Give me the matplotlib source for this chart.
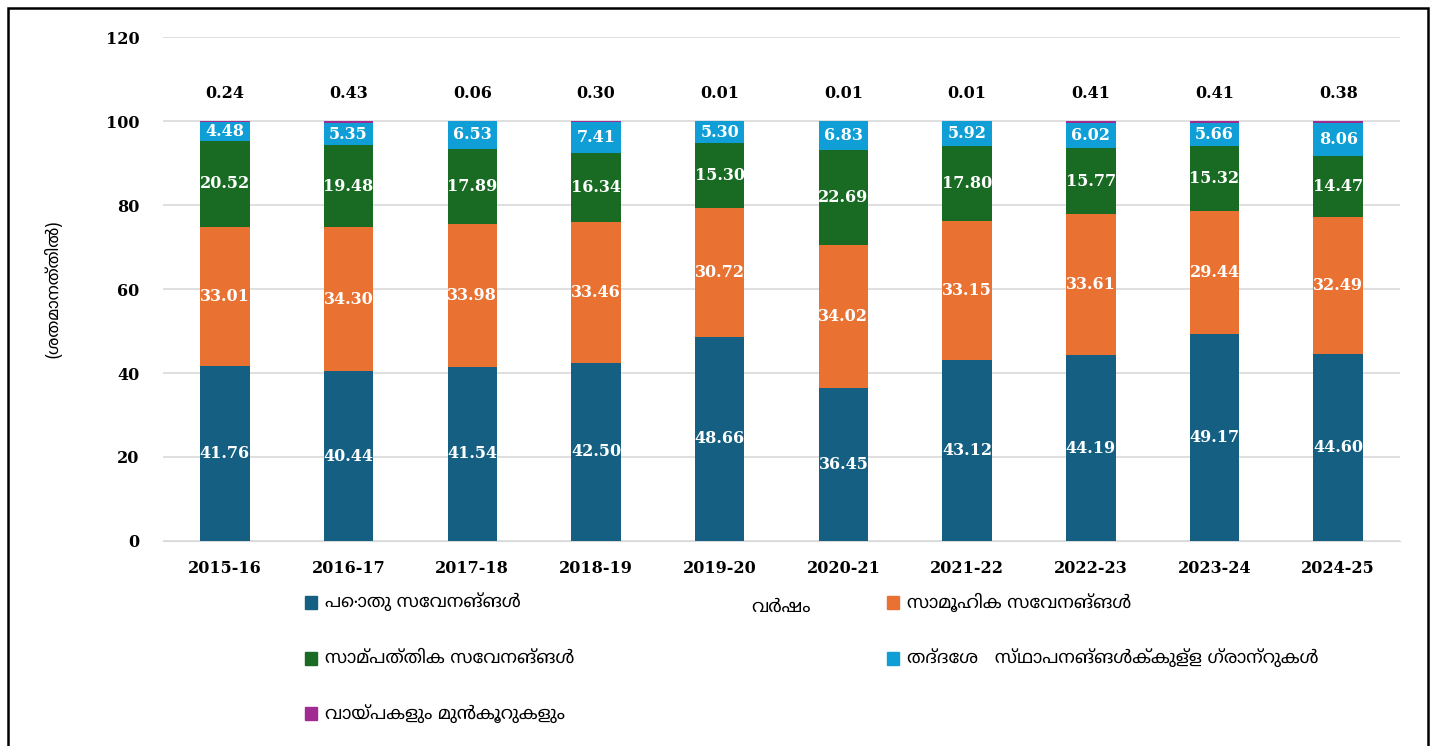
import matplotlib
matplotlib.use("Agg")
import matplotlib.pyplot as plt
import matplotlib.patches as mpatches
import numpy as np

years = ['2015-16', '2016-17', '2017-18', '2018-19', '2019-20',
         '2020-21', '2021-22', '2022-23', '2023-24', '2024-25']
general = [41.76, 40.44, 41.54, 42.50, 48.66, 36.45, 43.12, 44.19, 49.17, 44.60]
social = [33.01, 34.30, 33.98, 33.46, 30.72, 34.02, 33.15, 33.61, 29.44, 32.49]
economic = [20.52, 19.48, 17.89, 16.34, 15.30, 22.69, 17.80, 15.77, 15.32, 14.47]
lsg_grants = [4.48, 5.35, 6.53, 7.41, 5.30, 6.83, 5.92, 6.02, 5.66, 8.06]
loans = [0.24, 0.43, 0.06, 0.30, 0.01, 0.01, 0.01, 0.41, 0.41, 0.38]

series_names = ['പൊതു സേവനങ്ങൾ', 'സാമൂഹിക സേവനങ്ങൾ', 'സാമ്പത്തിക സേവനങ്ങൾ',
                'തദ്ദേശ   സ്ഥാപനങ്ങൾക്കുള്ള ഗ്രാന്റുകൾ', 'വായ്പകളും മുൻകൂറുകളും']
colors = ['#156082', '#E97132', '#196B24', '#0F9ED5', '#A02B93']

ml_font = ['Noto Sans Malayalam', 'Noto Sans', 'DejaVu Sans']
num_font = 'DejaVu Serif'

fig = plt.figure(figsize=(14.38, 7.46), dpi=100)
ax = fig.add_axes([0.1134, 0.2748, 0.8602, 0.6756])

x = np.arange(len(years))
bottom = np.zeros(len(years))
all_series = [general, social, economic, lsg_grants, loans]
for i, (vals, name, col) in enumerate(zip(all_series, series_names, colors)):
    vals = np.array(vals)
    ax.bar(x, vals, 0.4, bottom=bottom, color=col, label=name, zorder=3)
    if i < 4:
        for xi, v, bt in zip(x, vals, bottom):
            ax.text(xi, bt + v / 2, f'{v:.2f}', ha='center', va='center',
                    color='white', fontsize=11.5, fontweight='bold', family=num_font, zorder=4)
    else:
        # small values are written above the bars
        for xi, v in zip(x, vals):
            ax.text(xi, 106.6, f'{v:.2f}', ha='center', va='center',
                    color='black', fontsize=11.5, fontweight='bold', family=num_font)
    bottom += vals

ax.set_xlim(-0.5, len(years) - 0.5)
ax.set_ylim(0, 120)
ax.set_yticks(range(0, 121, 20))
ax.set_xticks(x)
ax.set_xticklabels(years)
ax.yaxis.grid(True, color='#d9d9d9', linewidth=1.2, zorder=0)
for s in ['top', 'right', 'left']:
    ax.spines[s].set_visible(False)
ax.spines['bottom'].set_color('#d9d9d9')
ax.tick_params(axis='x', length=0, pad=14)
ax.tick_params(axis='y', length=0, pad=17)
for lab in ax.get_xticklabels() + ax.get_yticklabels():
    lab.set_family(num_font)
    lab.set_fontweight('bold')
    lab.set_fontsize(11.5)

ax.set_ylabel('(ശതമാനത്തിൽ)', family=ml_font, fontsize=12)
ax.yaxis.set_label_coords(-(163 - 62) / 1237, 0.5)
fig.text(0.543, 0.187, 'വർഷം', family=ml_font, fontsize=13, ha='center', va='center')

# legend placed by hand to match the layout
leg_pos = [(0.212, 0.193), (0.617, 0.193), (0.212, 0.118), (0.617, 0.118), (0.212, 0.044)]
for (lx, ly), name, col in zip(leg_pos, series_names, colors):
    fig.patches.append(mpatches.Rectangle((lx, ly - 0.009), 0.0085, 0.0175,
                                          transform=fig.transFigure, color=col))
    fig.text(lx + 0.014, ly, name, family=ml_font, fontsize=13, va='center', ha='left')

# outer border
fig.patches.append(mpatches.Rectangle((8 / 1438, -0.01), 1420 / 1438, 1 - 8 / 746 + 0.01,
                                      transform=fig.transFigure, fill=False,
                                      edgecolor='black', linewidth=1.8))

fig.savefig('out.png', dpi=100)
